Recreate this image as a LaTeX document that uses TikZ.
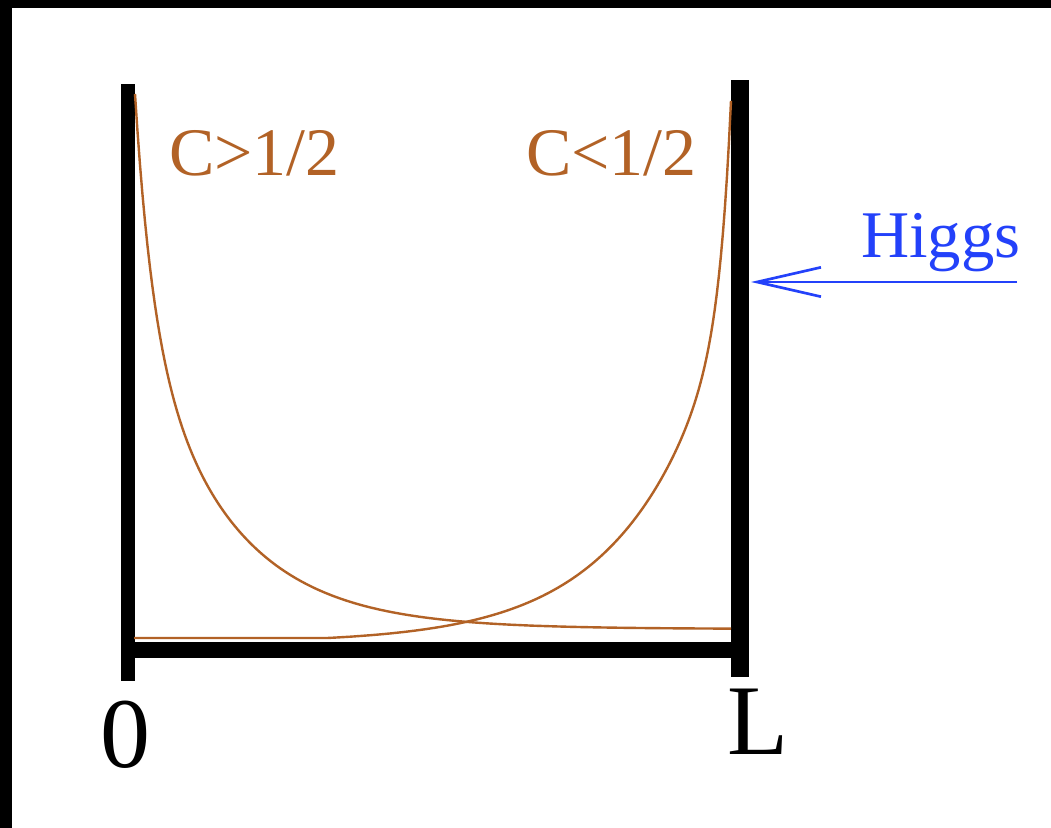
\documentclass[tikz,border=0pt]{standalone}
\usepackage{fontspec}
\setmainfont{Liberation Serif}
\usetikzlibrary{arrows.meta}
\definecolor{curvebrown}{RGB}{178,98,38}
\definecolor{higgsblue}{RGB}{35,65,250}
\tikzset{
  bar/.style={line width=#1, black, line cap=butt},
  curve/.style={curvebrown, line width=1.8pt, line join=round},
  lbl/.style={inner sep=0pt, anchor=base west},
}
\begin{document}
\begin{tikzpicture}[x=0.75pt, y=-0.75pt]
\useasboundingbox (0,0) rectangle (1051,828);
\fill[white] (0,0) rectangle (1051,828);
\fill[black] (0,0) rectangle (1051,8);
\fill[black] (0,0) rectangle (12,828);
% bars
\coordinate (lt) at (127.5,84);
\coordinate (lb) at (127.5,681);
\coordinate (rt) at (739.5,80);
\coordinate (rb) at (739.5,677);
\coordinate (bl) at (121,650);
\coordinate (br) at (748,650);
\draw[bar=10.5pt] (lt) -- (lb);
\draw[bar=13.5pt] (rt) -- (rb);
\draw[bar=12pt] (bl) -- (br);
% curves
\draw[curve] plot[domain=0:596, samples=240]
  ({135+\x}, {629 - 213*exp(-min(\x,150)/17.5) - 322*exp(-\x/87)});
\draw[curve] plot[domain=0:404, samples=200]
  ({731-\x}, {638 - 201*exp(-min(\x,120)/11) - 341*exp(-\x/95) + 4.85})
  -- (134,638);
% labels
\node[lbl, text=curvebrown, font=\fontsize{51pt}{51pt}\selectfont] (cgt) at (169,175) {C>1/2};
\node[lbl, text=curvebrown, font=\fontsize{51pt}{51pt}\selectfont] (clt) at (526,175) {C<1/2};
\node[lbl, text=higgsblue, font=\fontsize{50pt}{50pt}\selectfont] (higgs) at (861,257) {Higgs};
\node[inner sep=0pt, anchor=base, font=\fontsize{75pt}{75pt}\selectfont] (zero) at (125,767) {0};
\node[lbl, font=\fontsize{75pt}{75pt}\selectfont] (ell) at (727,754) {L};
% arrow
\coordinate (hs) at (1017,282);
\coordinate (he) at (751,282);
\draw[higgsblue, line width=2.2pt, -{Straight Barb[length=48pt, width=22pt, line width=2pt]}] (hs) -- (he);
\end{tikzpicture}
\end{document}
